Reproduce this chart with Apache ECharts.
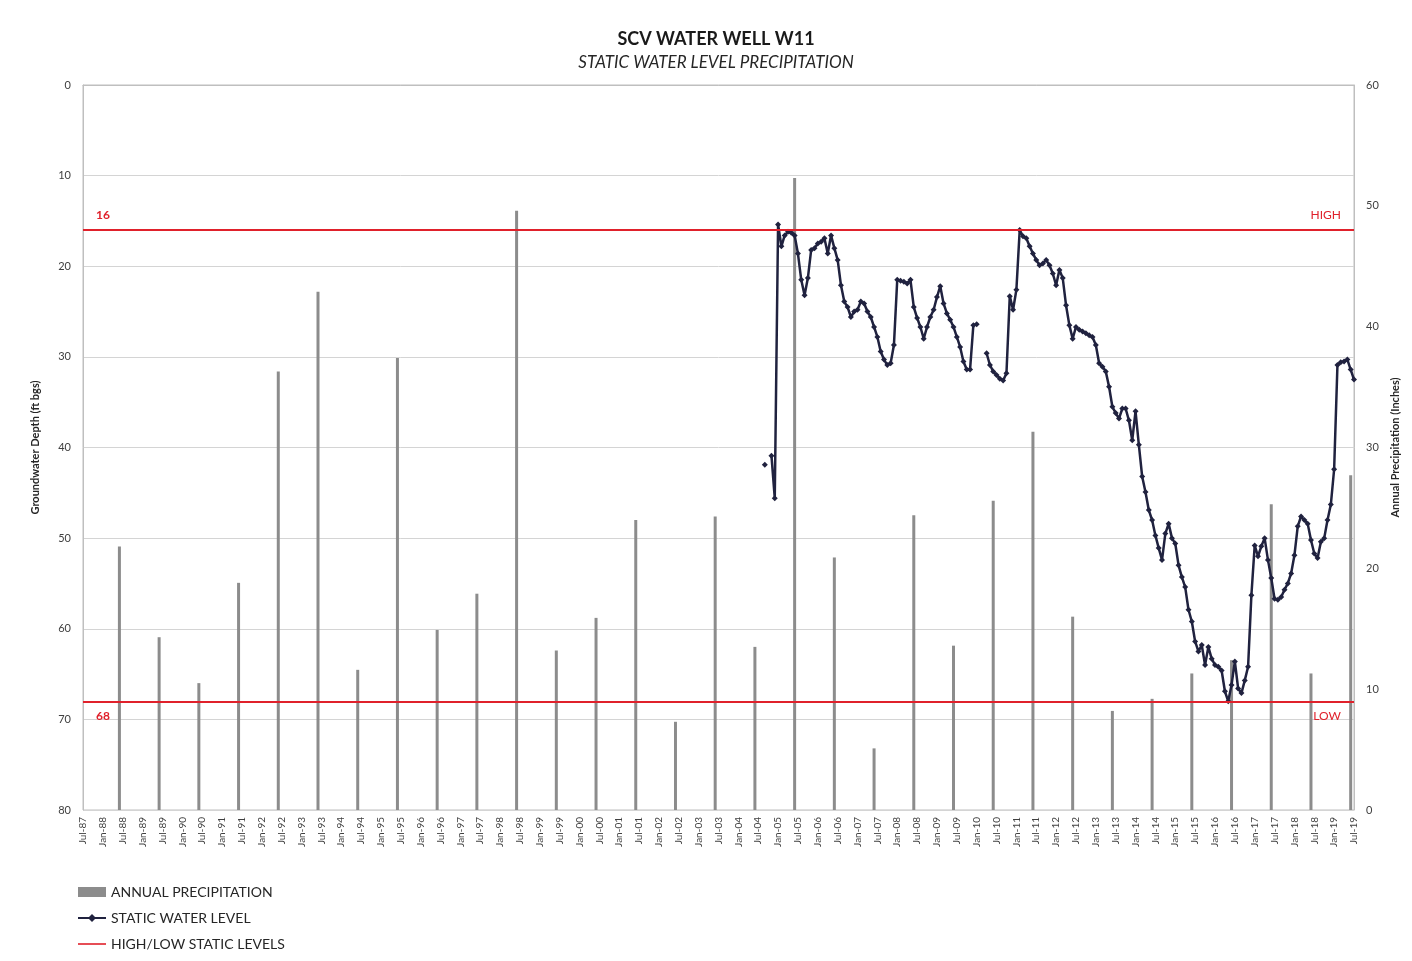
<!DOCTYPE html>
<html>
<head>
<meta charset="utf-8">
<title>SCV Water Well W11</title>
<script src="https://cdn.jsdelivr.net/npm/echarts@6/dist/echarts.min.js"></script>
<style>
  html, body { margin: 0; padding: 0; background: #fff; }
  #chart { width: 1412px; height: 961px; }
</style>
</head>
<body>
<div id="chart"></div>
<script>
// x axis: one category per month, Jul-87 .. Jul-19, labelled every 6 months
const monthNames = ["Jan", "Feb", "Mar", "Apr", "May", "Jun", "Jul", "Aug", "Sep", "Oct", "Nov", "Dec"];
const firstYear = 1987, firstMonth = 6; // Jul-87
const lastYear = 2019, lastMonth = 6;   // Jul-19

// annual precipitation (inches), one bar per year, plotted in June
const precipYears = [1988, 1989, 1990, 1991, 1992, 1993, 1994, 1995, 1996, 1997, 1998, 1999, 2000, 2001, 2002, 2003,
  2004, 2005, 2006, 2007, 2008, 2009, 2010, 2011, 2012, 2013, 2014, 2015, 2016, 2017, 2018, 2019];
const precipInches = [21.8, 14.3, 10.5, 18.8, 36.3, 42.9, 11.6, 37.4, 14.9, 17.9, 49.6, 13.2, 15.9, 24.0, 7.3, 24.3,
  13.5, 52.3, 20.9, 5.1, 24.4, 13.6, 25.6, 31.3, 16.0, 8.2, 9.2, 11.3, 12.4, 25.3, 11.3, 27.7];

// static water level (ft bgs), monthly from Sep-04; null = no reading
const levelStart = "Sep-04";
const levelDepthFt = [
  41.9, null, 40.9, 45.6,                                           // Sep-04 .. Dec-04
  15.4, 17.8, 16.6, 16.2, 16.3, 16.6, 18.6, 21.5, 23.2, 21.3, 18.2, 18.0, // 2005
  17.5, 17.3, 16.9, 18.6, 16.6, 18.0, 19.3, 22.1, 23.9, 24.5, 25.6, 25.0, // 2006
  24.8, 23.9, 24.1, 25.0, 25.6, 26.7, 27.8, 29.4, 30.3, 30.9, 30.7, 28.7, // 2007
  21.5, 21.6, 21.7, 21.9, 21.5, 24.5, 25.7, 26.7, 28.0, 26.7, 25.6, 24.8, // 2008
  23.4, 22.2, 24.1, 25.2, 25.9, 26.7, 27.8, 28.9, 30.5, 31.4, 31.4, 26.5, // 2009
  26.4, null, null, 29.6, 30.9, 31.6, 32.0, 32.4, 32.6, 31.8, 23.3, 24.8, // 2010
  22.6, 16.0, 16.7, 16.9, 17.8, 18.6, 19.3, 19.9, 19.7, 19.3, 19.9, 20.8, // 2011
  22.1, 20.4, 21.3, 24.3, 26.5, 28.0, 26.7, 27.0, 27.2, 27.4, 27.6, 27.8, // 2012
  28.7, 30.7, 31.1, 31.6, 33.3, 35.5, 36.2, 36.8, 35.7, 35.7, 37.0, 39.2, // 2013
  36.0, 39.7, 43.2, 44.9, 46.9, 48.0, 49.7, 51.1, 52.4, 49.5, 48.4, 50.0, // 2014
  50.6, 53.0, 54.3, 55.4, 57.9, 59.2, 61.4, 62.5, 61.8, 64.0, 62.0, 63.3, // 2015
  64.0, 64.2, 64.6, 66.9, 68.0, 66.2, 63.6, 66.6, 67.1, 65.7, 64.2, 56.3, // 2016
  50.8, 52.0, 50.9, 50.0, 52.4, 54.4, 56.7, 56.8, 56.5, 55.7, 55.0, 53.9, // 2017
  51.9, 48.7, 47.6, 48.0, 48.4, 50.2, 51.7, 52.2, 50.4, 50.0, 48.0, 46.3, // 2018
  42.4, 30.9, 30.6, 30.5, 30.3, 31.4, 32.5                                // Jan-19 .. Jul-19
];

const highLevel = 16;
const lowLevel = 68;

function monthLabel(y, m) {
  return monthNames[m] + "-" + String(y % 100).padStart(2, "0");
}

const months = [];
for (let y = firstYear, m = firstMonth; y < lastYear || (y === lastYear && m <= lastMonth); ) {
  months.push(monthLabel(y, m));
  m++;
  if (m > 11) { m = 0; y++; }
}

const precipData = precipYears.map((y, i) => [monthLabel(y, 5), precipInches[i]]);
const startIdx = months.indexOf(levelStart);
const levelData = levelDepthFt.map((v, i) => [months[startIdx + i], v === null ? "-" : v]);

const font = "Lato, 'Open Sans', sans-serif";
const axisText = "#404040";
const red = "#e0212b";

const chart = echarts.init(document.getElementById("chart"));
chart.setOption({
  animation: false,
  textStyle: { fontFamily: font },
  title: {
    text: "SCV WATER WELL W11",
    subtext: "STATIC WATER LEVEL PRECIPITATION",
    left: 711,
    top: 25,
    textAlign: "center",
    itemGap: 6,
    textStyle: { fontFamily: font, fontSize: 18, fontWeight: "bold", color: "#1a1a1a" },
    subtextStyle: { fontFamily: font, fontSize: 17, fontStyle: "italic", color: "#262626" },
  },
  grid: {
    left: 83,
    right: 58,
    top: 85,
    bottom: 151,
    show: true,
    borderColor: "#bfbfbf",
    borderWidth: 1,
  },
  legend: {
    orient: "vertical",
    left: 77,
    top: 885,
    padding: 0,
    itemWidth: 28,
    itemHeight: 10,
    itemGap: 12,
    textStyle: { fontFamily: font, fontSize: 14, color: "#262626" },
    data: [
      { name: "ANNUAL PRECIPITATION", icon: "rect" },
      { name: "STATIC WATER LEVEL" },
      { name: "HIGH/LOW STATIC LEVELS", icon: "path://M0,4.2 L28,4.2 L28,5.8 L0,5.8 Z" },
    ],
  },
  xAxis: {
    type: "category",
    data: months,
    boundaryGap: false,
    axisLine: { show: true, lineStyle: { color: "#bfbfbf" } },
    axisTick: { show: false },
    splitLine: { show: false },
    axisLabel: {
      interval: 5,
      rotate: 90,
      fontSize: 10,
      color: axisText,
      margin: 7,
    },
  },
  yAxis: [
    {
      type: "value",
      inverse: true,
      min: 0,
      max: 80,
      interval: 10,
      name: "Groundwater Depth (ft bgs)",
      nameLocation: "middle",
      nameRotate: 90,
      nameGap: 42,
      nameTextStyle: { fontSize: 11, fontWeight: "bold", color: "#262626" },
      axisLine: { show: true, lineStyle: { color: "#bfbfbf" } },
      axisTick: { show: false },
      axisLabel: { fontSize: 11, color: axisText, margin: 12 },
      splitLine: { show: true, lineStyle: { color: "#d4d4d4" } },
    },
    {
      type: "value",
      min: 0,
      max: 60,
      interval: 10,
      position: "right",
      name: "Annual Precipitation (Inches)",
      nameLocation: "middle",
      nameRotate: 90,
      nameGap: 32,
      nameTextStyle: { fontSize: 11, fontWeight: "bold", color: "#262626" },
      axisLine: { show: true, lineStyle: { color: "#bfbfbf" } },
      axisTick: { show: false },
      axisLabel: { fontSize: 11, color: axisText, margin: 12 },
      splitLine: { show: false },
    },
  ],
  series: [
    {
      name: "ANNUAL PRECIPITATION",
      type: "bar",
      yAxisIndex: 1,
      barWidth: 3,
      itemStyle: { color: "#8c8c8c" },
      data: precipData,
    },
    {
      name: "HIGH/LOW STATIC LEVELS",
      type: "line",
      yAxisIndex: 0,
      symbol: "none",
      itemStyle: { color: red },
      lineStyle: { color: red, width: 2 },
      data: [],
      markLine: {
        silent: true,
        symbol: "none",
        lineStyle: { color: red, width: 2, type: "solid" },
        label: { color: red, fontSize: 12, fontFamily: font, distance: [13, 9] },
        data: [
          { yAxis: highLevel, label: { position: "insideStartTop", formatter: String(highLevel), fontWeight: "bold" } },
          { yAxis: highLevel, label: { position: "insideEndTop", formatter: "HIGH" } },
          { yAxis: lowLevel, label: { position: "insideStartBottom", formatter: String(lowLevel), fontWeight: "bold" } },
          { yAxis: lowLevel, label: { position: "insideEndBottom", formatter: "LOW" } },
        ],
      },
    },
    {
      name: "STATIC WATER LEVEL",
      type: "line",
      yAxisIndex: 0,
      symbol: "diamond",
      symbolSize: 6,
      showAllSymbol: true,
      itemStyle: { color: "#20223f" },
      lineStyle: { color: "#20223f", width: 2.5 },
      data: levelData,
    },
  ],
});
</script>
</body>
</html>
